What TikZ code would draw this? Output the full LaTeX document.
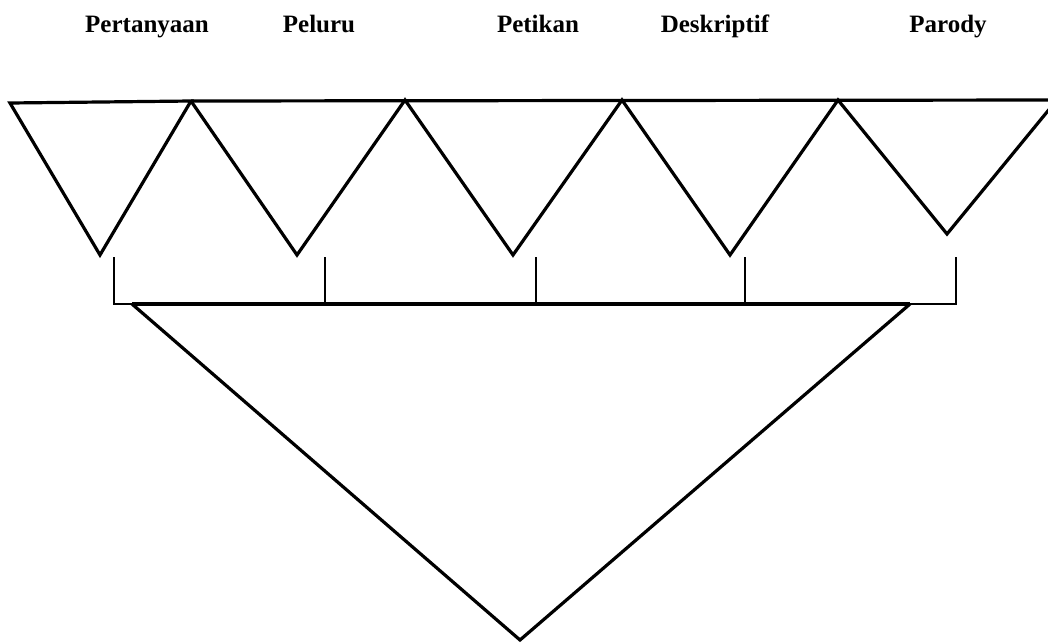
\documentclass[tikz,border=0pt]{standalone}
\usepackage{fontspec}
\setmainfont{Liberation Serif}
\begin{document}
\begin{tikzpicture}[x=1pt,y=-1pt,
  lbl/.style={anchor=base,inner sep=0pt,font=\fontsize{25}{30}\selectfont\bfseries},
  tri/.style={line width=3.2pt,line join=miter},
  tick/.style={line width=1.5pt},
  thick top/.style={line width=3.2pt}]
\useasboundingbox (0,0) rectangle (1048,643);
\clip (0,0) rectangle (1048,643);
% labels
\node[lbl] (l1) at (147,32) {Pertanyaan};
\node[lbl] (l2) at (319,32) {Peluru};
\node[lbl] (l3) at (538,32) {Petikan};
\node[lbl] (l4) at (715,32) {Deskriptif};
\node[lbl] (l5) at (948,32) {Parody};
% top triangles
\coordinate (a0) at (10,103);
\coordinate (t1) at (191,101);
\coordinate (t2) at (405,100);
\coordinate (t3) at (622,100);
\coordinate (t4) at (838,100);
\coordinate (t5) at (1060,100);
\coordinate (p1) at (100,255);
\coordinate (p2) at (297,255);
\coordinate (p3) at (513,255);
\coordinate (p4) at (730,255);
\coordinate (p5) at (947,234);
\draw[tri] (a0) -- (t1) -- (p1) -- cycle;
\draw[tri] (t1) -- (t5);
\draw[tri] (t1) -- (p2) -- (t2) -- (p3) -- (t3) -- (p4) -- (t4) -- (p5) -- (1056,101);
% bracket
\coordinate (k1) at (114,257);
\coordinate (k2) at (325,257);
\coordinate (k3) at (536,257);
\coordinate (k4) at (745,257);
\coordinate (k5) at (956,257);
\coordinate (b1) at (114,304);
\coordinate (b2) at (325,304);
\coordinate (b3) at (536,304);
\coordinate (b4) at (745,304);
\coordinate (b5) at (956,304);
\draw[tick] (k1) -- (b1) -- (b5) -- (k5);
\draw[tick] (k2) -- (b2);
\draw[tick] (k3) -- (b3);
\draw[tick] (k4) -- (b4);
% big triangle
\coordinate (g1) at (132,304);
\coordinate (g2) at (910,304);
\coordinate (g3) at (520,640);
\draw[thick top] (g1) -- (g2);
\draw[tri] (g1) -- (g3) -- (g2);
\end{tikzpicture}
\end{document}
